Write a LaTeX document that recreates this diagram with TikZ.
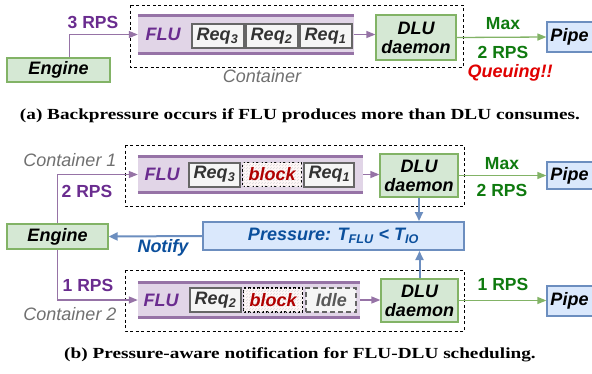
\documentclass[tikz,border=0pt]{standalone}
\usepackage{fontspec}
\setmainfont{Liberation Serif}
\setsansfont{Liberation Sans}
\newfontfamily\capfont[FakeStretch=1.25]{Liberation Serif}
\usetikzlibrary{arrows.meta,patterns}

\definecolor{purL}{HTML}{9673A6}
\definecolor{purT}{HTML}{6A2C8F}
\definecolor{purF}{HTML}{E1D5E7}
\definecolor{grnF}{HTML}{D5E8D4}
\definecolor{grnB}{HTML}{82B366}
\definecolor{grnT}{HTML}{0F7A0F}
\definecolor{bluF}{HTML}{DAE8FC}
\definecolor{bluB}{HTML}{6C8EBF}
\definecolor{bluT}{HTML}{0B4F9C}
\definecolor{redT}{HTML}{E00000}
\definecolor{blkT}{HTML}{B00000}
\definecolor{gryT}{HTML}{707070}
\definecolor{gryB}{HTML}{666666}
\definecolor{gryF}{HTML}{F5F5F5}

\tikzset{
  sf/.style={font=\sffamily\bfseries\itshape\fontsize{18}{19}\selectfont},
  cont/.style={draw=black, line width=1pt, dash pattern=on 3pt off 2.5pt},
  contlbl/.style={font=\sffamily\itshape\fontsize{18}{19}\selectfont, text=gryT},
  band/.style={fill=purF, inner sep=0pt},
  bandline/.style={draw=purL, line width=2.5pt},
  flu/.style={sf, text=purT},
  req/.style={sf, draw=gryB, fill=gryF, line width=2pt, inner sep=0pt,
    minimum width=52pt, minimum height=24pt, text=black!80},
  blockbox/.style={sf, draw=black, dash pattern=on 2.5pt off 2pt, line width=1.3pt,
    fill=red!3, postaction={pattern=north east lines, pattern color=gray!28},
    inner sep=0pt, minimum width=59pt, minimum height=24pt, text=blkT},
  idlebox/.style={sf, draw=gryB, dash pattern=on 5pt off 3pt, line width=2pt,
    fill=gryF, inner sep=0pt, minimum width=50pt, minimum height=24pt, text=black!65},
  gbox/.style={sf, draw=grnB, fill=grnF, line width=1.2pt, inner sep=0pt,
    align=center, text=black},
  bbox/.style={sf, draw=bluB, fill=bluF, line width=1.2pt, inner sep=0pt, text=black},
  pipebox/.style={bbox, minimum width=52pt},
  parrow/.style={draw=purL, line width=1.3pt, -{Triangle[length=9pt,width=7pt]}},
  garrow/.style={draw=grnB, line width=1.3pt, -{Triangle[length=9pt,width=7pt]}},
  barrow/.style={draw=bluB, line width=2pt, -{Triangle[length=9pt,width=8pt]}},
  plbl/.style={font=\sffamily\bfseries\fontsize{17.5}{18}\selectfont, text=purT},
  glbl/.style={font=\sffamily\bfseries\fontsize{17.5}{18}\selectfont, text=grnT},
  captxt/.style={font=\capfont\bfseries\fontsize{15.4}{17}\selectfont}
}
% pipe boxes run off the right edge; keep their label a little left of centre
\newcommand\pipetext{Pipe\hspace*{7pt}}

\begin{document}
\begin{tikzpicture}[x=1pt,y=-1pt]
\path[use as bounding box] (0,0) rectangle (592,373);
\begin{scope}
\clip (0,0) rectangle (592,373);

% ---------------- (a) single container ----------------
\draw[cont] (130,5) rectangle (463,67);
\node[band, minimum width=216pt, minimum height=38pt] (bandA) at (246,34.5) {};
\draw[bandline] (bandA.north west) -- (bandA.north east);
\draw[bandline] (bandA.south west) -- (bandA.south east);
\node[flu] (fluA) at (163,34.5) {FLU};
\node[req] (rA3) at (217.5,36) {Req\textsubscript{3}};
\node[req, anchor=west] (rA2) at (rA3.east) {Req\textsubscript{2}};
\node[req, anchor=west] (rA1) at (rA2.east) {Req\textsubscript{1}};
\node[gbox, minimum width=80pt, minimum height=45pt] (dluA) at (416,37.5) {DLU\\daemon};
\node[pipebox, minimum height=30pt] (pipeA) at (573,37) {\pipetext};
\node[gbox, minimum width=103pt, minimum height=24pt] (engA) at (58.5,70) {Engine};

\draw[parrow] ([xshift=11pt]engA.north) |- (bandA.west);
\draw[parrow] (bandA.east) -- (bandA.east -| dluA.west);
\draw[garrow] (dluA.east) -- (pipeA.west);

\node[plbl] (rpsA) at (93,22) {3 RPS};
\node[glbl] (maxA) at (503,24) {Max};
\node[glbl] (maxA2) at (503,52) {2 RPS};
\node[contlbl] (contA) at (262,76) {Container};
\node[sf, text=redT] (queue) at (510,73) {Queuing!!};

\node[captxt] (capA) at (300,116) {(a) Backpressure occurs if FLU produces more than DLU consumes.};

% ---------------- (b) two containers ----------------
% container 1
\draw[cont] (125,145) rectangle (464,206);
\node[band, minimum width=225pt, minimum height=36pt] (band1) at (250.5,174.5) {};
\draw[bandline] (band1.north west) -- (band1.north east);
\draw[bandline] (band1.south west) -- (band1.south east);
\node[flu] (flu1) at (162,174.5) {FLU};
\node[req, minimum width=51pt] (r13) at (214.5,174.5) {Req\textsubscript{3}};
\node[blockbox, anchor=west] (blk1) at ([xshift=1pt]r13.east) {block};
\node[req, anchor=west, minimum width=50pt] (r11) at ([xshift=1pt]blk1.east) {Req\textsubscript{1}};
\node[gbox, minimum width=78pt, minimum height=43pt] (dlu1) at (419,175.5) {DLU\\daemon};
\node[pipebox, minimum height=27pt] (pipe1) at (573,175.5) {\pipetext};

% container 2
\draw[cont] (125,270) rectangle (464,331);
\node[band, minimum width=222pt, minimum height=35pt] (band2) at (249,300) {};
\draw[bandline] (band2.north west) -- (band2.north east);
\draw[bandline] (band2.south west) -- (band2.south east);
\node[flu] (flu2) at (161,300) {FLU};
\node[req, minimum width=51pt] (r22) at (215.5,300) {Req\textsubscript{2}};
\node[blockbox, anchor=west] (blk2) at ([xshift=1pt]r22.east) {block};
\node[idlebox, anchor=west] (idle) at ([xshift=2pt]blk2.east) {Idle};
\node[gbox, minimum width=77pt, minimum height=43pt] (dlu2) at (419.5,300.5) {DLU\\daemon};
\node[pipebox, minimum height=30pt] (pipe2) at (573,301) {\pipetext};

% engine and pressure monitor
\node[gbox, minimum width=101pt, minimum height=25pt] (engB) at (57.5,236.5) {Engine};
\node[bbox, line width=2pt, minimum width=261pt, minimum height=28pt, text=bluT]
  (press) at (333.5,236) {Pressure: T\textsubscript{FLU} < T\textsubscript{IO}};

\draw[parrow] (engB.north) |- (band1.west);
\draw[parrow] (engB.south) |- (band2.west);
\draw[parrow] (band1.east) -- (band1.east -| dlu1.west);
\draw[parrow] (band2.east) -- (band2.east -| dlu2.west);
\draw[garrow] (dlu1.east) -- (dlu1.east -| pipe1.west);
\draw[garrow] (dlu2.east) -- (dlu2.east -| pipe2.west);
\draw[barrow] (dlu1.south) -- (dlu1.south |- press.north);
\draw[barrow] (dlu2.north) -- (dlu2.north |- press.south);
\draw[barrow] (press.west) -- (engB.east);

\node[plbl] (rps2) at (87,191) {2 RPS};
\node[plbl] (rps1) at (88,285) {1 RPS};
\node[contlbl] (cont1) at (70,160) {Container 1};
\node[contlbl] (cont2) at (70,314) {Container 2};
\node[sf, text=bluT] (notify) at (163,248) {Notify};
\node[glbl] (max1) at (502,164) {Max};
\node[glbl] (max1b) at (502,190) {2 RPS};
\node[glbl] (rpsg2) at (503,284) {1 RPS};

\node[captxt] (capB) at (300,355) {(b) Pressure-aware notification for FLU-DLU scheduling.};
\end{scope}
\end{tikzpicture}
\end{document}
